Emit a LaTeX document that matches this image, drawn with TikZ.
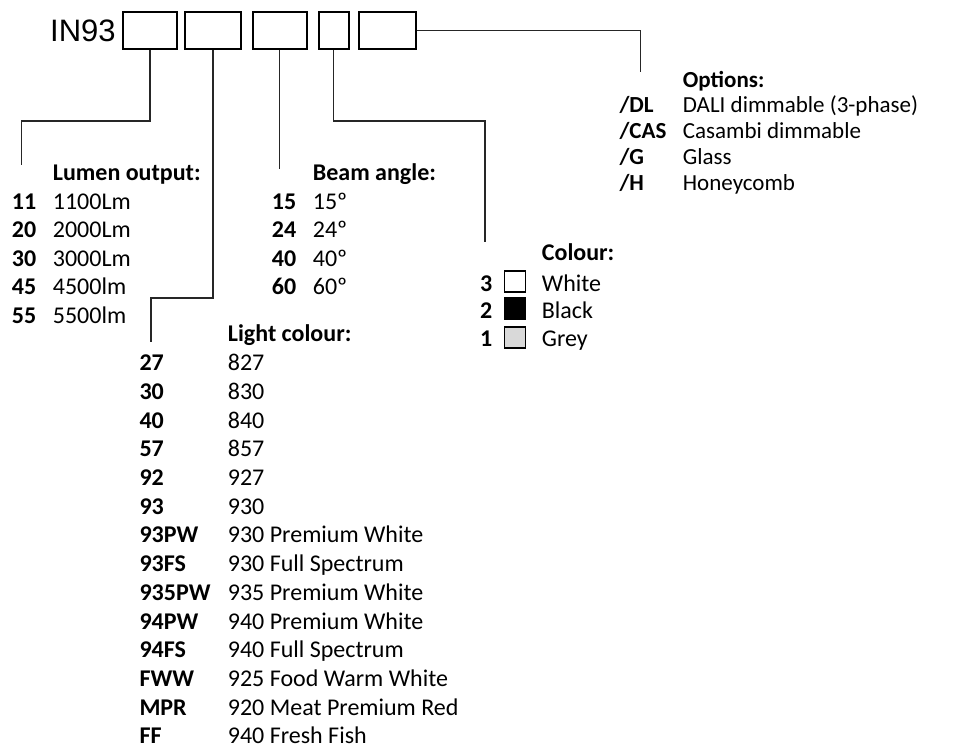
\documentclass[tikz,border=0pt]{standalone}
\usepackage{fontspec}
\setmainfont{Carlito}
\newfontfamily\arialf{Liberation Sans}
\begin{document}
\begin{tikzpicture}[x=1pt,y=-1pt,
  code/.style={anchor=base west,inner sep=0pt,font=\fontsize{24}{28}\selectfont\bfseries},
  val/.style={anchor=base west,inner sep=0pt,font=\fontsize{24}{28}\selectfont},
  ocode/.style={anchor=base west,inner sep=0pt,font=\fontsize{23}{26}\selectfont\bfseries},
  oval/.style={anchor=base west,inner sep=0pt,font=\fontsize{23}{26}\selectfont},
  slot/.style={draw,line width=2pt,minimum height=37pt,inner sep=0pt},
  conn/.style={draw=black!85,line width=1.2pt},
  swatch/.style={draw,line width=1.8pt,minimum width=21pt,minimum height=21pt,inner sep=0pt}]
\useasboundingbox (0,0) rectangle (955,748);
\fill[white] (0,0) rectangle (955,748);
% code boxes
\node[anchor=base west,inner sep=0pt,font=\arialf\fontsize{31}{36}\selectfont] (in93) at (50,41.7) {IN93};
\node[slot,minimum width=54.6pt] (b1) at (150,30.5) {};
\node[slot,minimum width=56.3pt] (b2) at (213,30.5) {};
\node[slot,minimum width=54pt] (b3) at (279.8,30.5) {};
\node[slot,minimum width=29.7pt] (b4) at (333.8,30.5) {};
\node[slot,minimum width=56.4pt] (b5) at (387.5,30.5) {};
% connector end points
\coordinate (k1) at (21.7,121);
\coordinate (l1) at (21.7,165);
\coordinate (k2) at (151,298);
\coordinate (l2) at (151,342);
\coordinate (l3) at (279.3,169);
\coordinate (k4) at (485,121);
\coordinate (l4) at (485,242);
\coordinate (l5) at (640.7,71.7);
\draw[conn] (b1.south) |- (k1) -- (l1);
\draw[conn] (b2.south) |- (k2) -- (l2);
\draw[conn] (b3.south) -- (b3.south |- l3);
\draw[conn] (b4.south) |- (k4) -- (l4);
\draw[conn] (b5.east) -| (l5);
% Lumen output
\node[code] (lh) at (52.7,180) {Lumen output:};
\foreach \c/\v [count=\i from 0] in {11/1100Lm,20/2000Lm,30/3000Lm,45/4500lm,55/5500lm}{
  \node[code] (lc\i) at (11.7,209.3+28.5*\i) {\c};
  \node[val] (lv\i) at (52.7,209.3+28.5*\i) {\v};
}
% Beam angle
\node[code] (bh) at (312.7,180) {Beam angle:};
\foreach \c/\v [count=\i from 0] in {15/15º,24/24º,40/40º,60/60º}{
  \node[code] (bc\i) at (271.7,209.3+28.4*\i) {\c};
  \node[val] (bv\i) at (312.7,209.3+28.4*\i) {\v};
}
% Colour
\node[code] (ch) at (541.7,260) {Colour:};
\node[code] (cc0) at (480,291.7) {3};
\node[code] (cc1) at (480,318.8) {2};
\node[code] (cc2) at (480,346) {1};
\node[swatch,fill=white] (cs0) at (515,281.3) {};
\node[swatch,fill=black] (cs1) at (515,308.7) {};
\node[swatch,fill=black!15] (cs2) at (515,337.5) {};
\node[val] (cv0) at (541.7,291.7) {White};
\node[val] (cv1) at (541.7,318.8) {Black};
\node[val] (cv2) at (541.7,346) {Grey};
% Options
\node[ocode] (oh) at (682.7,87.3) {Options:};
\foreach \c/\v [count=\i from 0] in {DL/DALI dimmable (3-phase),CAS/Casambi dimmable,G/Glass,H/Honeycomb}{
  \node[ocode] (oc\i) at (619.3,112.7+25.8*\i) {/\c};
  \node[oval] (ov\i) at (682.7,112.7+25.8*\i) {\v};
}
% Light colour
\node[code] (gh) at (227.7,341) {Light colour:};
\foreach \c/\v [count=\i from 0] in {27/827,30/830,40/840,57/857,92/927,93/930,93PW/930 Premium White,93FS/930 Full Spectrum,935PW/935 Premium White,94PW/940 Premium White,94FS/940 Full Spectrum,FWW/925 Food Warm White,MPR/920 Meat Premium Red,FF/940 Fresh Fish}{
  \node[code] (gc\i) at (139.3,370.7+28.7*\i) {\c};
  \node[val] (gv\i) at (227.7,370.7+28.7*\i) {\v};
}
\end{tikzpicture}
\end{document}
